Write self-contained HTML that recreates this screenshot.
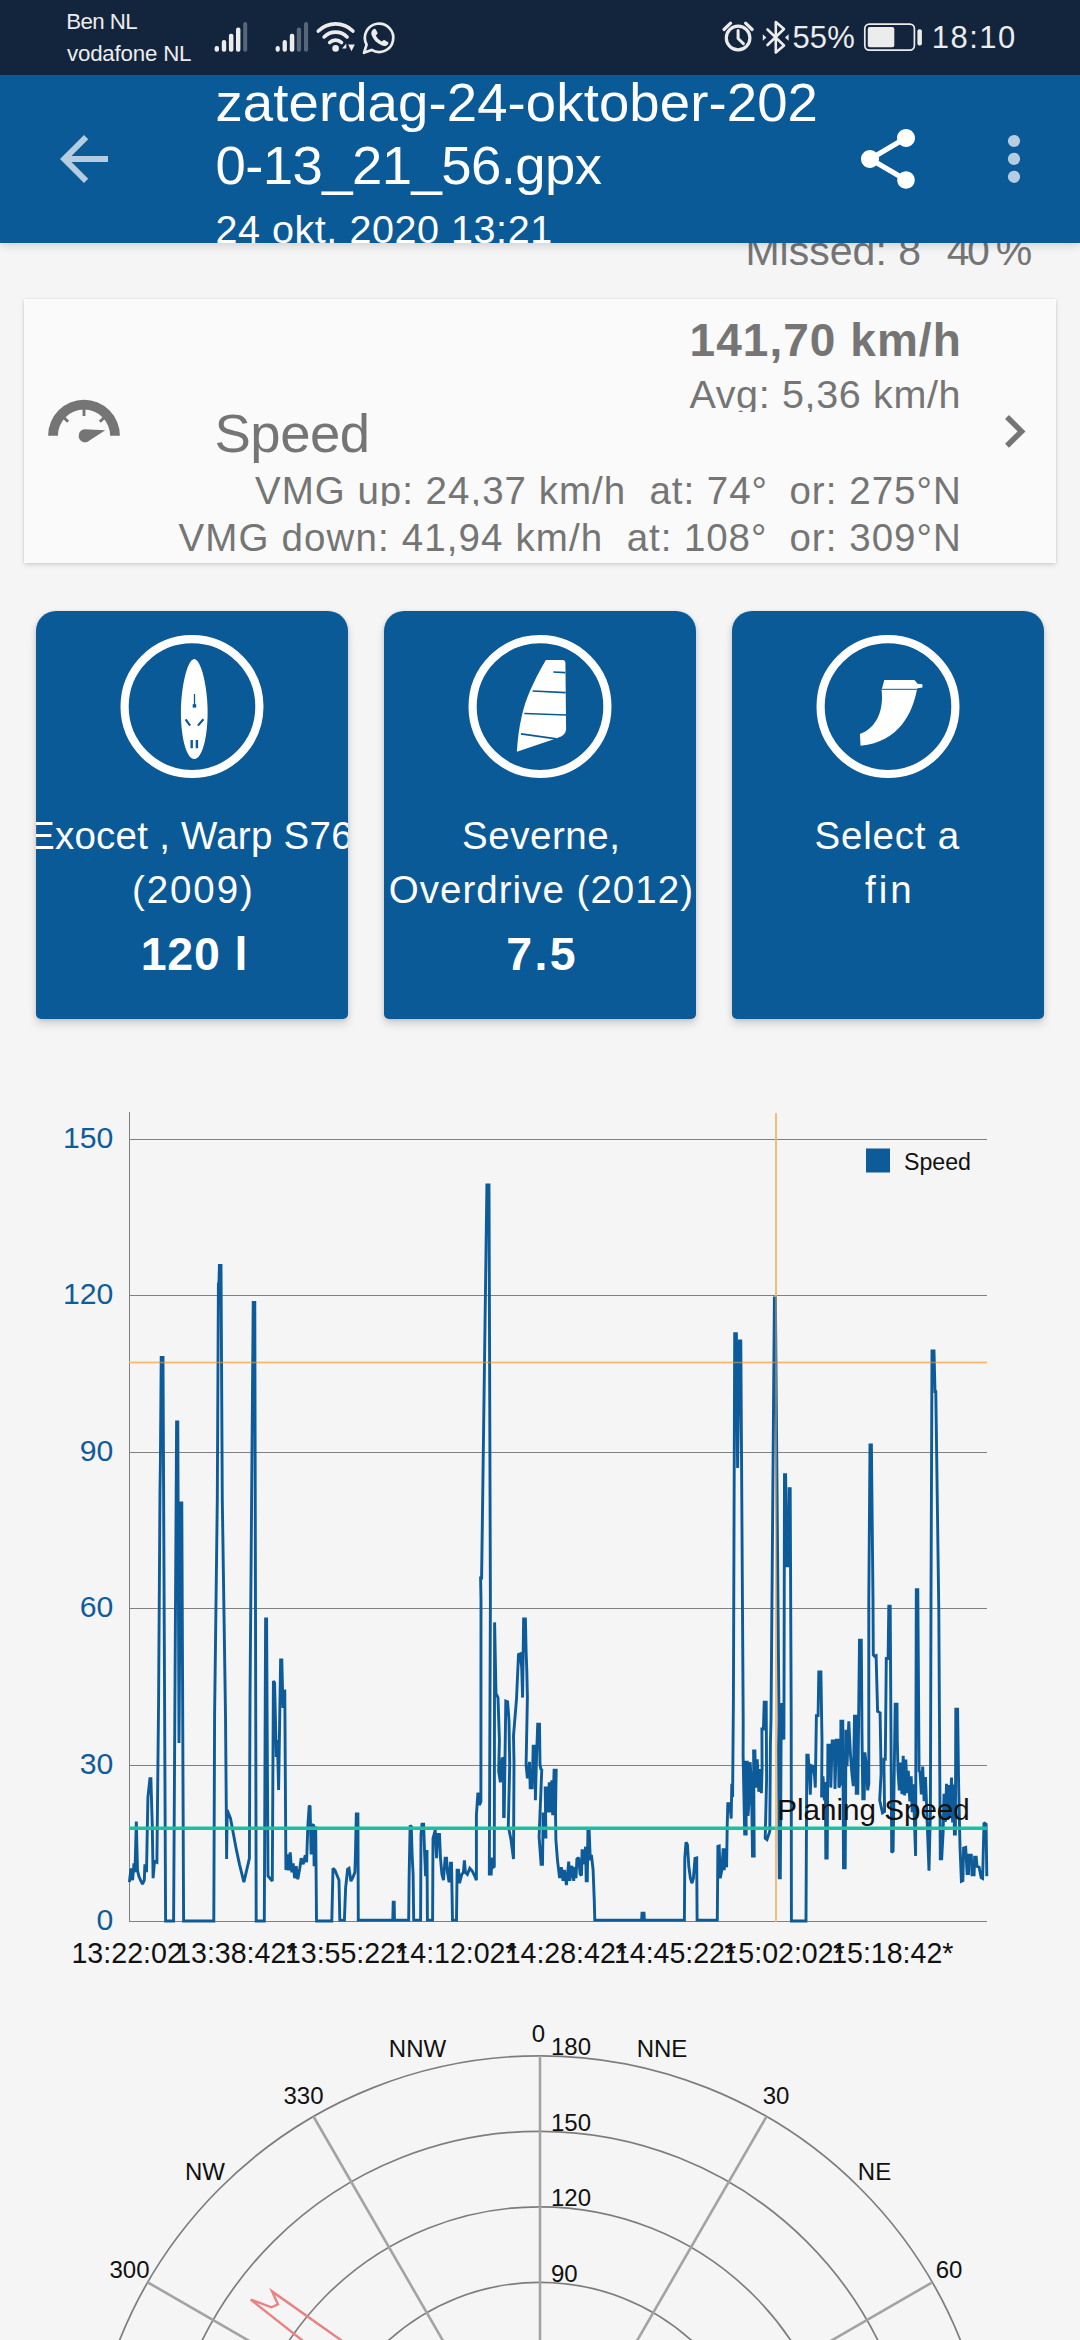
<!DOCTYPE html>
<html lang="nl">
<head>
<meta charset="utf-8">
<title>zaterdag-24-oktober-2020-13_21_56.gpx</title>
<style>
*{margin:0;padding:0;box-sizing:border-box}
html,body{width:1080px;height:2340px;overflow:hidden;background:#f5f5f5}
body{position:relative;font-family:"Liberation Sans",Arial,sans-serif;color:#757575}
.abs{position:absolute;white-space:nowrap}
#status{position:absolute;left:0;top:0;width:1080px;height:75px;background:#13253c;color:#ececec;z-index:5}
#appbar{position:absolute;left:0;top:75px;width:1080px;height:168px;background:#0b5a98;color:#fff;overflow:hidden;z-index:4;box-shadow:0 2px 9px rgba(0,0,0,.17)}
#card{position:absolute;left:24px;top:299px;width:1032px;height:264px;background:#fafafa;box-shadow:0 2px 5px rgba(0,0,0,.13),0 0 2px rgba(0,0,0,.10);overflow:hidden}
.tile{position:absolute;top:611px;width:312px;height:408px;background:#0b5a98;border-radius:20px 20px 5px 5px;box-shadow:0 5px 10px rgba(0,0,0,.14),0 1px 4px rgba(0,0,0,.12);color:#fff;overflow:hidden}
.tile .t{position:absolute;left:-50px;width:412px;text-align:center;white-space:nowrap;font-size:38.5px}
.tile .b{position:absolute;left:-50px;width:412px;text-align:center;white-space:nowrap;font-size:46px;font-weight:bold}
svg{position:absolute;overflow:visible}
</style>
</head>
<body>

<!-- STATUS BAR -->
<div id="status">
  <div class="abs" id="st1" style="left:66.2px;top:9.3px;font-size:22.3px;line-height:26px;letter-spacing:-0.6px;">Ben NL</div>
  <div class="abs" id="st2" style="left:67.0px;top:40.5px;font-size:22.3px;line-height:26px;letter-spacing:-0.2px;">vodafone NL</div>
  <div class="abs" id="st3" style="left:792.4px;top:20.4px;font-size:31px;line-height:36px;letter-spacing:0.15px;">55%</div>
  <div class="abs" id="st4" style="left:931.7px;top:20.4px;font-size:31px;line-height:36px;letter-spacing:1.5px;">18:10</div>
  <svg id="sticons" width="1080" height="74" viewBox="0 0 1080 74" style="left:0;top:0"><rect x="214.6" y="46" width="4.4" height="5.8" rx="2" fill="#ececec"/><rect x="221.8" y="40.1" width="4.4" height="11.7" rx="2" fill="#ececec"/><rect x="228.9" y="33.7" width="4.5" height="18.1" rx="2" fill="#ececec"/><rect x="236" y="27.5" width="4.4" height="24.3" rx="2" fill="#ececec"/><rect x="243.2" y="22" width="4.0" height="29.8" rx="2" fill="#57677b"/><rect x="275.6" y="46" width="4.2" height="5.8" rx="2" fill="#ececec"/><rect x="282.6" y="40.1" width="4.3" height="11.7" rx="2" fill="#ececec"/><rect x="289.8" y="33.7" width="4.5" height="18.1" rx="2" fill="#ececec"/><rect x="296.8" y="27.5" width="4.3" height="24.3" rx="2" fill="#57677b"/><rect x="304" y="22" width="4.1" height="29.8" rx="2" fill="#57677b"/><path d="M318.3 31.1A24.4 24.4 0 0 1 352.9 31.1" fill="none" stroke="#ececec" stroke-width="3.6" stroke-linecap="round"/><path d="M324.1 36.9A16.2 16.2 0 0 1 347.1 36.9" fill="none" stroke="#ececec" stroke-width="3.6" stroke-linecap="round"/><path d="M329.7 42.5A8.4 8.4 0 0 1 341.5 42.5" fill="none" stroke="#ececec" stroke-width="3.6" stroke-linecap="round"/><circle cx="335.6" cy="48.4" r="3.3" fill="#ececec"/><path d="M342 48.5l4.3-5v5zM348.2 44.5h6.6l-3.3 6.8z" fill="#ececec"/><path d="M364 52.8l2.6-8.2a14.2 14.2 0 1 1 5 5.3z" fill="none" stroke="#ececec" stroke-width="2.7" stroke-linejoin="round"/><path d="M373.2 29.6c1-1 2-1 2.6 0l1.6 3c.3.8 0 1.500-.8 2.200l-.8.8c1.400 2.700 3.300 4.600 6 6l.9-.9c.6-.7 1.400-.9 2.100-.5l3 1.700c.9.600.9 1.500 0 2.500-1.500 1.600-3.600 2-5.800 1.100-5.300-2.100-8.700-5.700-10.500-10.700-.600-2 .1-3.800 1.700-5.200z" fill="#ececec"/><circle cx="738.1" cy="38" r="11.8" fill="none" stroke="#ececec" stroke-width="3.2"/><path d="M738.1 30.500v8l5.300 5.100" fill="none" stroke="#ececec" stroke-width="3" stroke-linecap="round" stroke-linejoin="round"/><path d="M724 29.500l6.600-6.300M752.200 29.500l-6.600-6.300" fill="none" stroke="#ececec" stroke-width="3.200" stroke-linecap="round"/><path d="M767.5 29.500l16.500 16-8.200 7v-30.500l8.200 7-16.500 16" fill="none" stroke="#ececec" stroke-width="2.600" stroke-linejoin="round" stroke-linecap="round"/><path d="M762.800 34.200l3.600 3.300-3.600 3.300zM788.600 34.200l-3.600 3.300 3.600 3.300z" fill="#ececec"/><rect x="864.800" y="24.100" width="49.600" height="26" rx="4.500" fill="none" stroke="#ececec" stroke-width="1.700"/><rect x="867.800" y="27" width="26.500" height="20.200" rx="2" fill="#ececec"/><rect x="917.400" y="29.300" width="4.500" height="16.300" rx="2" fill="#ececec"/></svg>
</div>

<!-- APP BAR -->
<div id="appbar">
  <div class="abs" id="ti1" style="left:215.4px;top:-4.4px;font-size:54.5px;line-height:64px;letter-spacing:0.12px;">zaterdag-24-oktober-202</div>
  <div class="abs" id="ti2" style="left:215.4px;top:59.4px;font-size:54.5px;line-height:64px;letter-spacing:-0.57px;">0-13_21_56.gpx</div>
  <div class="abs" id="ti3" style="left:215.4px;top:131.3px;font-size:39.5px;line-height:46px;letter-spacing:0.56px;">24 okt. 2020 13:21</div>
  <svg id="abicons" width="1080" height="168" viewBox="0 75 1080 168" style="left:0;top:0"><g transform="translate(48 123) scale(3)" fill="#b6cde1"><path d="M20 11H7.830l5.590-5.590L12 4l-8 8 8 8 1.410-1.410L7.830 13H20v-2z"/></g><g transform="translate(852 123) scale(3)" fill="#fff"><path d="M18 16.080c-.760 0-1.440.300-1.960.770L8.910 12.700c.050-.230.090-.460.090-.700s-.040-.470-.090-.700l7.050-4.110c.540.500 1.250.810 2.040.810 1.660 0 3-1.340 3-3s-1.340-3-3-3-3 1.340-3 3c0 .240.040.470.090.700L8.040 9.810C7.500 9.310 6.790 9 6 9c-1.660 0-3 1.340-3 3s1.340 3 3 3c.790 0 1.500-.310 2.040-.810l7.120 4.160c-.050.210-.080.430-.080.650 0 1.610 1.310 2.920 2.920 2.920 1.610 0 2.920-1.310 2.920-2.920s-1.310-2.920-2.920-2.920z"/></g><g fill="#b6cde1"><circle cx="1014" cy="141" r="6.100"/><circle cx="1014" cy="158.900" r="6.100"/><circle cx="1014" cy="176.800" r="6.100"/></g></svg>
</div>

<!-- MISSED -->
<div class="abs" id="missedA" style="left:745.4px;top:226.8px;font-size:41px;line-height:48px;letter-spacing:0.03px;color:#757575;">Missed: 8</div>
<div class="abs" id="missedB" style="left:946.8px;top:226.8px;font-size:41px;line-height:48px;letter-spacing:-2.7px;color:#757575;">40 %</div>

<!-- SPEED CARD -->
<div id="card">
  <div class="abs" id="c1" style="left:665.6px;top:13.6px;font-size:46px;line-height:54px;letter-spacing:1.03px;font-weight:bold;">141,70 km/h</div>
  <div class="abs" id="c2" style="left:665.4px;top:75.3px;font-size:39.5px;line-height:40px;letter-spacing:0.65px;height:37.7px;overflow:hidden;">Avg: 5,36 km/h</div>
  <div class="abs" id="c3" style="left:190.5px;top:102.6px;font-size:54.5px;line-height:64px;letter-spacing:-0.5px;">Speed</div>
  <div class="abs" id="c4a" style="left:231.0px;top:168.6px;font-size:38.5px;line-height:46px;letter-spacing:1.0px;height:38.4px;overflow:hidden;">VMG up: 24,37 km/h</div>
  <div class="abs" id="c4b" style="left:625.4px;top:168.6px;font-size:38.5px;line-height:46px;letter-spacing:0.97px;height:38.4px;overflow:hidden;">at: 74°</div>
  <div class="abs" id="c4c" style="left:765.4px;top:168.6px;font-size:38.5px;line-height:46px;letter-spacing:1.04px;height:38.4px;overflow:hidden;">or: 275°N</div>
  <div class="abs" id="c5a" style="left:154.5px;top:216.0px;font-size:38.5px;line-height:46px;letter-spacing:1.13px;">VMG down: 41,94 km/h</div>
  <div class="abs" id="c5b" style="left:602.8px;top:216.0px;font-size:38.5px;line-height:46px;letter-spacing:0.91px;">at: 108°</div>
  <div class="abs" id="c5c" style="left:765.4px;top:216.0px;font-size:38.5px;line-height:46px;letter-spacing:1.04px;">or: 309°N</div>
  <svg id="cardicons" width="1032" height="264" viewBox="24 299 1032 264" style="left:0;top:0"><path d="M48.1 435.7A35.9 35.9 0 0 1 119.9 435.7H110.1A26.1 26.1 0 0 0 57.9 435.7z" fill="#757575"/><path d="M84 408.500v7.400M63.800 417.500l4.300 4.300M104.200 417.500l-4.300 4.300" stroke="#757575" stroke-width="2.900" fill="none"/><path d="M105.300 430.200L87.200 441.900A6.500 6.500 0 1 1 84.300 429.300z" fill="#757575"/><path d="M1007 417l14.500 14.400L1007 445.800" stroke="#757575" stroke-width="5.600" fill="none"/></svg>
</div>

<!-- TILES -->
<div class="tile" id="tile1" style="left:36px">
  <div class="abs" id="t1a" style="left:-7.0px;top:202.4px;font-size:38.5px;line-height:46px;letter-spacing:0.25px;">Exocet , Warp S76</div>
  <div class="abs" id="t1b" style="left:95.9px;top:255.9px;font-size:38.5px;line-height:46px;letter-spacing:1.94px;">(2009)</div>
  <div class="abs" id="t1c" style="left:104.7px;top:316.3px;font-size:46.5px;line-height:54px;letter-spacing:0.8px;font-weight:bold;">120 l</div>
</div>
<div class="tile" id="tile2" style="left:384px">
  <div class="abs" id="t2a" style="left:78.0px;top:202.4px;font-size:38.5px;line-height:46px;letter-spacing:0.54px;">Severne,</div>
  <div class="abs" id="t2b" style="left:4.7px;top:255.9px;font-size:38.5px;line-height:46px;letter-spacing:1.03px;">Overdrive (2012)</div>
  <div class="abs" id="t2c" style="left:122.3px;top:316.3px;font-size:46.5px;line-height:54px;letter-spacing:2.35px;font-weight:bold;">7.5</div>
</div>
<div class="tile" id="tile3" style="left:732px">
  <div class="abs" id="t3a" style="left:82.5px;top:202.4px;font-size:38.5px;line-height:46px;letter-spacing:0.79px;">Select a</div>
  <div class="abs" id="t3b" style="left:133.0px;top:255.9px;font-size:38.5px;line-height:46px;letter-spacing:3.0px;">fin</div>
</div>
<svg id="tileicons" width="1080" height="420" viewBox="0 600 1080 420" style="left:0;top:600px"><circle cx="192" cy="706.600" r="67.400" fill="none" stroke="#fff" stroke-width="8.200"/><circle cx="540" cy="706.600" r="67.400" fill="none" stroke="#fff" stroke-width="8.200"/><circle cx="888" cy="706.600" r="67.400" fill="none" stroke="#fff" stroke-width="8.200"/><path d="M194.200 658.900C201.500 659.500 207.600 688 207.600 712C207.600 738 202 759 194.200 759C186.400 759 180.900 738 180.900 712C180.900 688 187 659.500 194.200 658.900z" fill="#fff"/><path d="M194.500 694v11" stroke="#0b5a98" stroke-width="1.300" fill="none"/><rect x="192.700" y="704.200" width="3.500" height="3.400" fill="#0b5a98"/><path d="M185.600 719.300l4.500 6.300M203.400 719.300l-5.500 6.300" stroke="#0b5a98" stroke-width="2.200" fill="none"/><path d="M191.700 740.100v8.200M196.900 740.100v8.200" stroke="#0b5a98" stroke-width="2.400" fill="none"/><path d="M545.900 660.100L562.500 660.100Q565.300 660.100 565.400 663L566.100 729Q566.100 734 561 736.500L556 738.400L516.900 751.700C517.500 740 519 728 522 715C525.500 700 532 684 545.900 660.100z" fill="#fff"/><path d="M553.300 672l12 .600M532.600 691l33 1.700M524.300 713.500l42 1.500M521 733.900l35.500 5" stroke="#0b5a98" stroke-width="1.700" fill="none"/><path d="M884.300 680.100H914.400L917.600 683.800L922.400 684.200V687.500L917.600 688.200L916.900 690C912.500 712 900 742 860.600 745.700L859.900 733.900C872 730 884.500 716 881.600 690z" fill="#fff"/><path d="M882 689.300H918" stroke="#0b5a98" stroke-width="1" fill="none"/></svg>

<!-- LINE CHART -->
<svg id="chart" width="1080" height="900" viewBox="0 1090 1080 900" style="left:0;top:1090px"><path d="M129.500 1112V1922" stroke="#808080" stroke-width="1" fill="none" shape-rendering="crispEdges"/><path d="M129 1139.5H987M129 1295.5H987M129 1452.5H987M129 1608.5H987M129 1765.5H987M129 1921.5H987" stroke="#808080" stroke-width="1" fill="none" shape-rendering="crispEdges"/><text x="113.400" y="1147.8" text-anchor="end" font-size="30.200" fill="#0f5c9a" font-family="Liberation Sans, Arial, sans-serif">150</text><text x="113.400" y="1303.8" text-anchor="end" font-size="30.200" fill="#0f5c9a" font-family="Liberation Sans, Arial, sans-serif">120</text><text x="113.400" y="1460.8" text-anchor="end" font-size="30.200" fill="#0f5c9a" font-family="Liberation Sans, Arial, sans-serif">90</text><text x="113.400" y="1616.8" text-anchor="end" font-size="30.200" fill="#0f5c9a" font-family="Liberation Sans, Arial, sans-serif">60</text><text x="113.400" y="1773.8" text-anchor="end" font-size="30.200" fill="#0f5c9a" font-family="Liberation Sans, Arial, sans-serif">30</text><text x="113.400" y="1929.8" text-anchor="end" font-size="30.200" fill="#0f5c9a" font-family="Liberation Sans, Arial, sans-serif">0</text><path d="M129 1362.500H987M776 1113V1922" stroke="#f6b873" stroke-width="1.700" fill="none"/><path d="M129.4 1882.2L131 1868.3L132.6 1880.2L134 1863.3L135 1872.3L136.3 1821.5L137.5 1870.3L138.9 1876.3L140.5 1880.2L142.5 1884.2L144.3 1880.2L144.9 1864.3L146.5 1872.3L147.9 1797.6L149.9 1778.7L150.9 1778.7L152.3 1826.5L153.1 1878.2L154.5 1861.3L156.9 1862.3L158.6 1700L160 1490L160.4 1462L161.2 1357.5L163 1357.5L165.6 1921L173.6 1921L176.6 1422L177.8 1422L179 1743L180.6 1503L181.8 1503L183.6 1921L213.8 1921L214.6 1715L217.3 1500L218.4 1284L218.9 1284L219.4 1265.5L221 1265.5L222.3 1500L225.5 1715L226.3 1810L226.6 1859L227.2 1810L230.5 1818.5L233.5 1834.5L236.5 1850.4L239.5 1864.3L243.9 1882.2L249.4 1858.3L250 1700L253.2 1302.5L254.8 1302.5L256.2 1921L264.3 1921L265.6 1619L266.6 1619L268 1876L272.3 1881L273.4 1681L274.6 1683L276.3 1757L277.4 1740L278.6 1790L280.6 1660L281.8 1660L283 1708L283.6 1691L284.8 1691L285.9 1870L287.3 1854.4L288.6 1870.3L290.2 1852.4L291.8 1872.3L293.2 1863.3L294.6 1878.2L296.2 1866.3L297.8 1879.2L299.8 1868.3L301.2 1858.3L303.2 1864.3L305.2 1855.4L306.6 1862.3L307.8 1826.5L309.2 1805.6L310.1 1806.6L311.1 1854.4L312.1 1824.5L313.7 1825.5L314.1 1866.3L315.7 1826.5L316.5 1920.1L316.6 1921L331.8 1921L333 1868.3L335 1870.3L339 1880.2L339.8 1920.1L341.6 1920.1L344.4 1920.1L345.6 1888.2L347.6 1869.3L349 1868.3L350.9 1881.2L352.9 1877.3L354.9 1872.3L355.5 1852.4L356.3 1813.9L357.9 1813.9L358.3 1920.1L392.8 1920.1L393.2 1902.1L394.2 1902.1L394.5 1920.1L408.7 1920.1L409.1 1878.2L410.1 1825.5L411.3 1826.5L412.1 1854.4L413.1 1874.3L413.7 1920.1L420.6 1920.1L421 1834.5L422 1824.1L423.6 1824.1L424.6 1852.4L425.6 1876.3L426.2 1851.4L427 1851.4L427.4 1920.1L432.6 1920.1L433 1838.4L435.2 1830.1L436.6 1858.3L437.6 1834.5L439.5 1834.5L440.5 1858.3L441.9 1874.3L443.5 1880.2L445.1 1858.3L446.5 1858.3L447.5 1872.3L449.1 1882.2L450.5 1863.3L451.5 1863.3L452.5 1920.1L456.5 1920.1L457.1 1870.3L458.5 1870.3L459.5 1883.2L461.8 1874.3L463.4 1872.3L464.4 1860.3L465.4 1872.3L467.4 1874.3L469.8 1868.3L472.4 1871.3L474.4 1875.3L476.4 1880.2L476.4 1815.2L477.9 1792.6L479.6 1805L480.9 1801.5L481 1600L480.6 1578L481.6 1578L486.9 1185L489 1185L490.4 1600L489.3 1874L491.2 1874L491.9 1857.6L493.2 1867.2L494.3 1866.5L494.6 1622.4L496 1693.5L498 1697.6L499.4 1740L498.7 1771.5L500.4 1782.4L502.1 1757.8L503.5 1759.1L503.6 1816.6L504.2 1816.6L505.8 1701L507.6 1701.7L509 1720.9L509.7 1764.6L508.3 1826.2L511 1839.8L513.5 1859L514 1763.2L513.5 1735.9L516.5 1699L518.5 1654.5L520.3 1653.8L521.7 1667.5L522.6 1697.6L523.6 1619L525.4 1619L526.1 1651.1L526.8 1670.3L527.4 1697.6L526.1 1764.6L527.4 1778.3L529.5 1761.9L530.2 1787.9L532.2 1787.9L533.2 1746.2L535 1746.2L535.4 1800.2L536.3 1764.6L537.7 1724.3L539.5 1724.3L540 1764.6L541.1 1770.1L541.8 1768.7L539.1 1837.1L541.1 1864.4L542.5 1864.4L543.2 1812.5L544.5 1837.1L545.9 1837.1L545.2 1787.9L546.9 1787.9L547.7 1812.5L549.3 1782.4L550.7 1812.5L551.8 1780.3L552.7 1815.2L554.1 1770.1L556.2 1770.1L555.5 1812.5L555.9 1839.8L557.5 1860.3L559.6 1878.1L561.4 1867.2L563 1880.9L564.4 1869.9L566.4 1885L567.8 1871.3L568.7 1861.7L569.8 1880.9L571.9 1865.8L573.7 1880.9L574.6 1867.2L576 1878.1L576.9 1859L578.7 1857.6L580.1 1874L581.5 1875.4L582.1 1849.4L583.5 1864.4L585.6 1846.7L586.2 1880.9L587.3 1880.9L587.9 1830.9L589.2 1830.9L590.3 1860.3L591.4 1854.9L593.1 1869.9L594.2 1898.6L594.8 1920.1L641.6 1920.1L642 1913.1L644 1913.1L644.4 1920.1L684.4 1920.1L684.8 1858.3L686 1842.4L687.4 1844.4L688.8 1866.3L690.4 1878.2L692 1883.2L693.4 1878.2L695 1858.3L696.7 1857.9L697.1 1920.1L717.3 1920.1L717.9 1846.4L719.2 1846L720.2 1878.2L721.8 1870.3L723.2 1848.4L724.2 1870.3L725.2 1848.4L726.6 1867.3L727.2 1826.5L727.8 1803.6L729.8 1803.6L731.2 1818.5L731.8 1783.7L732.6 1797L733.4 1700L734.7 1333.6L736.4 1333.6L737.6 1468L739.4 1341L740.8 1341L743.2 1720L743.1 1755.1L744.7 1834.1L746.2 1834.1L745.9 1762.2L747.3 1762.2L748 1815.8L749.3 1797.4L750.1 1762.2L751.5 1783.3L752.5 1856L754.2 1856L753.6 1750.9L754.9 1750.9L755.7 1787.6L757.2 1759.4L758.8 1791.8L760 1769.2L761.4 1793.2L762.1 1767.8L761.9 1729L763.4 1729L764.2 1702.2L766.2 1702.2L766.6 1779.1L765.2 1838.3L767 1839.7L769.8 1831.3L770.4 1743.8L771 1720L774.4 1298L775.4 1298L779 1720L778.6 1748.1L779.3 1877.8L780.3 1877.8L781.1 1741L781.8 1704.4L783.1 1704.4L783.9 1739.6L784 1700L784.5 1474.6L785.6 1474.6L787 1565.8L788.4 1565.8L789.2 1488.7L790.2 1488.7L791.2 1720L791.4 1921L806 1921L806.8 1755.1L808.2 1755.1L809.3 1773.5L810.3 1794.6L811.3 1765.7L813.1 1766.4L814.6 1776.3L815.3 1787.6L816.4 1715.6L818.1 1715.6L818.8 1671.9L820.9 1671.9L822 1741L821.6 1797.4L823 1776.3L824.4 1800.3L825.4 1781.9L825.8 1858.1L827.2 1858.1L827.9 1745.3L830.1 1745.3L830.8 1787.6L832.2 1741L834.3 1741L835 1789L836.4 1740.3L838.5 1740.3L838.9 1787.6L840.6 1783.3L840.9 1721.3L842.8 1721.3L843.5 1867.9L845.2 1867.9L846 1729.7L847 1766.4L848.8 1721.3L850.5 1755.1L851.9 1773.5L853.3 1786.2L854.5 1716.3L856.9 1716.3L856.2 1793.2L857.8 1793.2L859.5 1640.2L861.3 1640.2L862 1733.9L862.8 1798.8L864.2 1798.8L864.9 1752.3L866.3 1765L867.7 1790.3L868.8 1783.3L868.8 1600L870 1445L871.4 1445L873 1600L873.3 1655L874.7 1656.4L876.1 1655.7L877.6 1711.4L880.1 1712.8L881.1 1773.4L879.7 1800.2L882.5 1812.9L884.6 1811.5L883.9 1759.3L885.3 1759.3L886.3 1658.5L888.1 1658.5L888.8 1606.3L890.2 1606.3L891.7 1852.4L893.1 1851L895.2 1704.3L897 1704.3L897.3 1741L898 1770.9L899.3 1790.3L900.6 1762.5L901.9 1794.1L903.2 1755.7L904.6 1795.5L905.8 1759.5L907.3 1793.3L908.3 1770.9L909.8 1801.5L911.2 1776.3L912.2 1812.1L913.2 1784.3L915.6 1855.9L916.3 1589.7L917.8 1589.7L919.1 1772L920 1771.1L921.3 1794.5L922.7 1766.6L924.1 1801.1L925.5 1777.1L926.6 1806.1L929 1870.7L930.4 1811.5L931 1600L932 1351L934 1351L935 1391.6L935.8 1391.6L938.8 1610L940.3 1858.7L941.7 1858.7L943.1 1832.6L944 1793.9L945.4 1821.9L946.5 1783.9L947.6 1819.6L948.8 1785L950 1817.5L951.5 1777.5L952.6 1822.5L953.9 1784.4L954.4 1834L955.4 1834L955.8 1709.3L957.6 1709.3L958.6 1783.3L960 1846.7L961.4 1881.3L962.9 1880.6L963.6 1848.1L965.7 1847.4L967.1 1873.5L968.5 1873.5L968.9 1855.2L971.3 1855.2L972 1874.9L974.1 1874.9L974.6 1857.3L976.2 1857.3L977 1866.5L979.1 1867.2L981.2 1877.7L982.6 1878.4L984 1822.8L986.1 1824.2L986.8 1876.3" stroke="#0e5b99" stroke-width="2.900" fill="none" stroke-linejoin="miter" stroke-miterlimit="2"/><path d="M129 1828.200H987" stroke="#1cbfa0" stroke-width="3.600" fill="none"/><path d="M129 1362.500H987M776 1113V1922" stroke="#f7b46a" stroke-width="1.700" fill="none" opacity=".5"/><text x="777.300" y="1820" font-size="30" fill="#111" font-family="Liberation Sans, Arial, sans-serif" textLength="192.500" lengthAdjust="spacingAndGlyphs">Planing Speed</text><rect x="866" y="1148.500" width="24" height="24" fill="#0e5b99"/><text x="904" y="1169.600" font-size="23.500" fill="#111" font-family="Liberation Sans, Arial, sans-serif" textLength="67" lengthAdjust="spacingAndGlyphs">Speed</text><text x="71.4" y="1962.800" font-size="29.500" fill="#111" font-family="Liberation Sans, Arial, sans-serif" textLength="111.5" lengthAdjust="spacingAndGlyphs">13:22:02</text><text x="175.2" y="1962.800" font-size="29.500" fill="#111" font-family="Liberation Sans, Arial, sans-serif" textLength="122.2" lengthAdjust="spacingAndGlyphs">13:38:42*</text><text x="284.9" y="1962.800" font-size="29.500" fill="#111" font-family="Liberation Sans, Arial, sans-serif" textLength="122.2" lengthAdjust="spacingAndGlyphs">13:55:22*</text><text x="394.4" y="1962.800" font-size="29.500" fill="#111" font-family="Liberation Sans, Arial, sans-serif" textLength="122.2" lengthAdjust="spacingAndGlyphs">14:12:02*</text><text x="504.7" y="1962.800" font-size="29.500" fill="#111" font-family="Liberation Sans, Arial, sans-serif" textLength="122.2" lengthAdjust="spacingAndGlyphs">14:28:42*</text><text x="613.9" y="1962.800" font-size="29.500" fill="#111" font-family="Liberation Sans, Arial, sans-serif" textLength="122.2" lengthAdjust="spacingAndGlyphs">14:45:22*</text><text x="722.5" y="1962.800" font-size="29.500" fill="#111" font-family="Liberation Sans, Arial, sans-serif" textLength="122.2" lengthAdjust="spacingAndGlyphs">15:02:02*</text><text x="831.2" y="1962.800" font-size="29.500" fill="#111" font-family="Liberation Sans, Arial, sans-serif" textLength="122.2" lengthAdjust="spacingAndGlyphs">15:18:42*</text></svg>

<!-- POLAR CHART -->
<svg id="polar" width="1080" height="340" viewBox="0 2000 1080 340" style="left:0;top:2000px"><circle cx="540" cy="2508.8" r="75.5" fill="none" stroke="#7d7d7d" stroke-width="1.700"/><circle cx="540" cy="2508.8" r="151.0" fill="none" stroke="#7d7d7d" stroke-width="1.700"/><circle cx="540" cy="2508.8" r="226.5" fill="none" stroke="#7d7d7d" stroke-width="1.700"/><circle cx="540" cy="2508.8" r="302.0" fill="none" stroke="#7d7d7d" stroke-width="1.700"/><circle cx="540" cy="2508.8" r="377.5" fill="none" stroke="#7d7d7d" stroke-width="1.700"/><circle cx="540" cy="2508.8" r="453.0" fill="none" stroke="#7d7d7d" stroke-width="1.700"/><path d="M540 2508.8L147.7 2282.3" stroke="#a3a3a3" stroke-width="2.600" fill="none"/><path d="M540 2508.8L313.5 2116.5" stroke="#a3a3a3" stroke-width="2.600" fill="none"/><path d="M540 2508.8L540.0 2055.8" stroke="#a3a3a3" stroke-width="2.600" fill="none"/><path d="M540 2508.8L766.5 2116.5" stroke="#a3a3a3" stroke-width="2.600" fill="none"/><path d="M540 2508.8L932.3 2282.3" stroke="#a3a3a3" stroke-width="2.600" fill="none"/><text x="538.5" y="2041.5" text-anchor="middle" font-size="24" fill="#111" font-family="Liberation Sans, Arial, sans-serif">0</text><text x="551" y="2055" text-anchor="start" font-size="24" fill="#111" font-family="Liberation Sans, Arial, sans-serif">180</text><text x="551" y="2130.5" text-anchor="start" font-size="24" fill="#111" font-family="Liberation Sans, Arial, sans-serif">150</text><text x="551" y="2206" text-anchor="start" font-size="24" fill="#111" font-family="Liberation Sans, Arial, sans-serif">120</text><text x="551" y="2281.5" text-anchor="start" font-size="24" fill="#111" font-family="Liberation Sans, Arial, sans-serif">90</text><text x="417.5" y="2057" text-anchor="middle" font-size="24" fill="#111" font-family="Liberation Sans, Arial, sans-serif">NNW</text><text x="662" y="2057" text-anchor="middle" font-size="24" fill="#111" font-family="Liberation Sans, Arial, sans-serif">NNE</text><text x="303.5" y="2103.5" text-anchor="middle" font-size="24" fill="#111" font-family="Liberation Sans, Arial, sans-serif">330</text><text x="776" y="2103.5" text-anchor="middle" font-size="24" fill="#111" font-family="Liberation Sans, Arial, sans-serif">30</text><text x="205" y="2179.5" text-anchor="middle" font-size="24" fill="#111" font-family="Liberation Sans, Arial, sans-serif">NW</text><text x="874.5" y="2179.5" text-anchor="middle" font-size="24" fill="#111" font-family="Liberation Sans, Arial, sans-serif">NE</text><text x="129.5" y="2277.5" text-anchor="middle" font-size="24" fill="#111" font-family="Liberation Sans, Arial, sans-serif">300</text><text x="949" y="2277.5" text-anchor="middle" font-size="24" fill="#111" font-family="Liberation Sans, Arial, sans-serif">60</text><path d="M304.400 2342L250.700 2299.600L271.500 2307.300L278 2304.400L272.100 2291.400L343.600 2342" fill="none" stroke="#e98283" stroke-width="2.400" stroke-linejoin="miter"/></svg>

</body>
</html>
